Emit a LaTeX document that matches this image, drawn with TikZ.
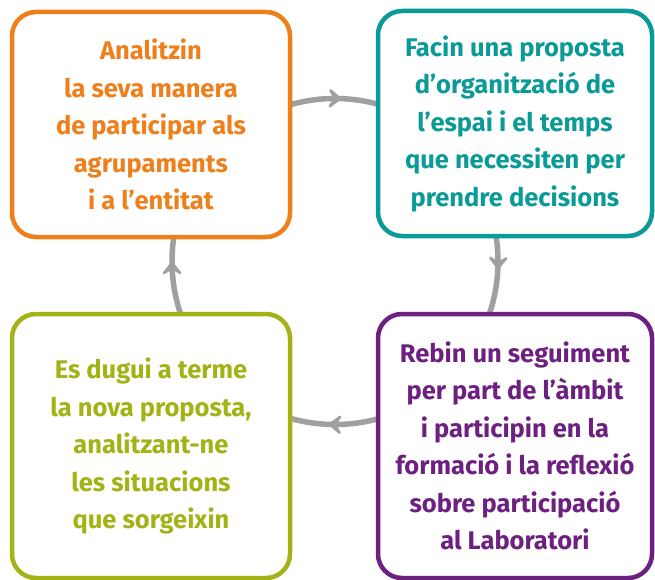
\documentclass[tikz,border=0pt]{standalone}
\usepackage{fontspec}
\setmainfont{Fira Sans}
\definecolor{cOrange}{HTML}{EE7F1B}
\definecolor{cTeal}{HTML}{0A9A98}
\definecolor{cGreen}{HTML}{A3B214}
\definecolor{cPurple}{HTML}{6E2081}
\definecolor{cGray}{HTML}{A0A0A0}
\tikzset{
  stepbox/.style={draw=#1, text=#1, fill=white, line width=4.5pt, rounded corners=24pt,
    inner sep=0pt, align=center,
    font=\fontsize{25.5}{37.5}\selectfont\bfseries},
  cyc/.style={draw=cGray, line width=5.5pt},
  headshape/.style={fill=cGray, draw=cGray, line width=2.5pt, line join=round}
}
\newcommand{\cychead}[2]{%
  \begin{scope}[shift={(#1)}, rotate=#2]
    \path[headshape] (0,0) -- (-10,8) -- (-5,0) -- (-10,-8) -- cycle;
  \end{scope}}
\begin{document}
\begin{tikzpicture}[x=1pt,y=1pt]
\useasboundingbox (0,0) rectangle (655,-580);
\coordinate (c) at (335,-261.5);
\def\R{163}
% cycle (behind boxes)
\draw[cyc] (c) circle[radius=\R];
\path (c) ++(88.2:\R) coordinate (t1);
\path (c) ++(-2.3:\R) coordinate (t2);
\path (c) ++(-91.8:\R) coordinate (t3);
\path (c) ++(-179.5:\R) coordinate (t4);
\cychead{t1}{-1.8}
\cychead{t2}{-92.3}
\cychead{t3}{178.2}
\cychead{t4}{90.5}
% boxes
\node[stepbox=cOrange, minimum width=278pt, minimum height=225pt] (a) at (151,-124.5)
  {Analitzin\\la seva manera\\de participar als\\agrupaments\\i a l’entitat};
\node[stepbox=cTeal, minimum width=274pt, minimum height=225pt] (b) at (515,-123.5)
  {Facin una proposta\\d’organització de\\l’espai i el temps\\que necessiten per\\prendre decisions};
\node[stepbox=cPurple, minimum width=274pt, minimum height=264pt] (d) at (515,-446)
  {Rebin un seguiment\\per part de l’àmbit\\i participin en la\\formació i la reflexió\\sobre participació\\al Laboratori};
\node[stepbox=cGreen, minimum width=278pt, minimum height=264pt] (e) at (151,-446)
  {Es dugui a terme\\la nova proposta,\\analitzant-ne\\les situacions\\que sorgeixin};
\end{tikzpicture}
\end{document}
